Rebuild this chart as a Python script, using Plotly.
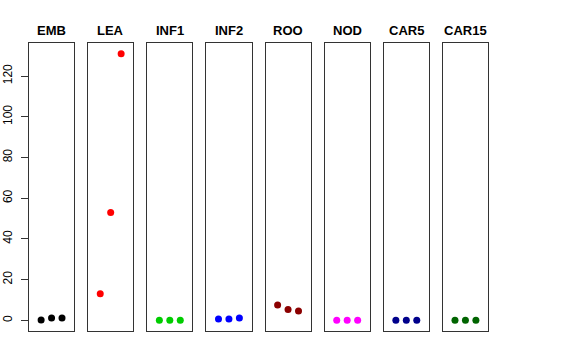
import plotly.graph_objects as go
from plotly.subplots import make_subplots

categories = ["EMB", "LEA", "INF1", "INF2", "ROO", "NOD", "CAR5", "CAR15"]
colors = ["#000000", "#FF0000", "#00CD00", "#0000FF", "#8B0000", "#FF00FF", "#00008B", "#006400"]
x_positions = [1, 2, 3]
values = {
    "EMB": [0.2, 1.1, 1.1],
    "LEA": [13, 53, 131],
    "INF1": [0.0, 0.0, 0.0],
    "INF2": [0.6, 0.7, 1.1],
    "ROO": [7.5, 5.3, 4.6],
    "NOD": [0.0, 0.0, 0.0],
    "CAR5": [0.0, 0.0, 0.0],
    "CAR15": [0.0, 0.0, 0.0],
}
y_ticks = [0, 20, 40, 60, 80, 100, 120]

n = len(categories)
fig = make_subplots(rows=1, cols=n, shared_yaxes=True, horizontal_spacing=14 / 459)

for i, cat in enumerate(categories):
    fig.add_trace(go.Scatter(x=x_positions, y=values[cat], mode="markers",
                             marker=dict(color=colors[i], size=7),
                             showlegend=False, hoverinfo="skip", cliponaxis=False),
                  row=1, col=i + 1)
    fig.update_xaxes(range=[-0.16, 4.16], showgrid=False, zeroline=False,
                     showticklabels=False, ticks="", showline=True, mirror=True,
                     linecolor="#333333", linewidth=1, automargin=False,
                     row=1, col=i + 1)
    axname = "x domain" if i == 0 else f"x{i+1} domain"
    fig.add_annotation(text=f"<b>{cat}</b>", xref=axname, x=0.5, yref="paper", y=1,
                       yshift=3, yanchor="bottom", showarrow=False,
                       font=dict(size=13, color="black", family="Liberation Sans, Arial"))

ymin, ymax = 0, 131
pad = 0.04 * (ymax - ymin)
for i in range(n):
    fig.update_yaxes(range=[ymin - pad, ymax + pad], showgrid=False, zeroline=False,
                     showline=True, mirror=True, linecolor="#333333", linewidth=1,
                     automargin=False, row=1, col=i + 1)
fig.update_yaxes(tickvals=y_ticks, ticks="outside", ticklen=7, tickcolor="#333333",
                 tickangle=-90, showticklabels=True, ticklabelstandoff=4,
                 tickfont=dict(size=12, color="black", family="Liberation Sans, Arial"),
                 row=1, col=1)
for i in range(1, n):
    fig.update_yaxes(showticklabels=False, ticks="", row=1, col=i + 1)

fig.update_layout(width=576, height=360, margin=dict(l=29, r=88, t=43, b=29),
                  paper_bgcolor="white", plot_bgcolor="white")
fig.write_html("out.html", config={"displayModeBar": False},
               post_script="document.body.style.margin='0';document.body.style.overflow='hidden';")
